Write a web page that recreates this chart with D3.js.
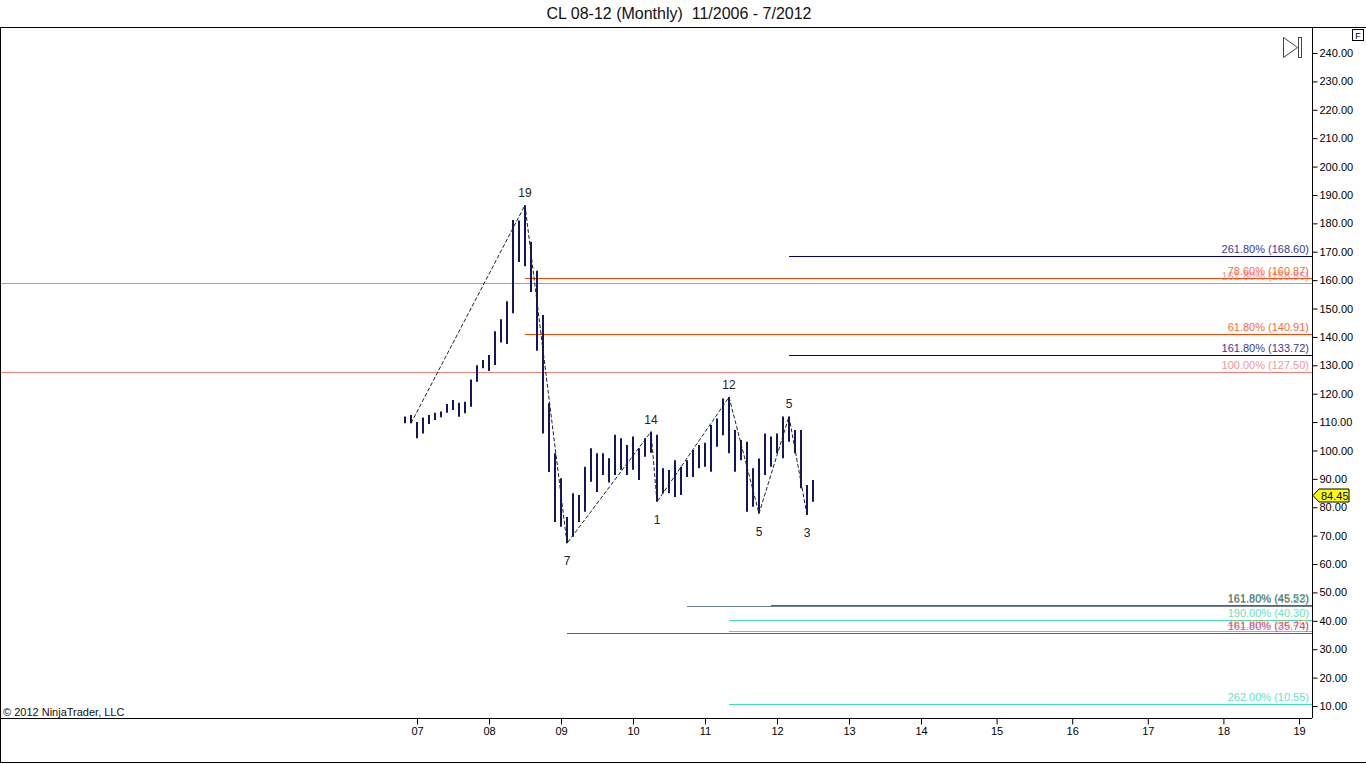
<!DOCTYPE html>
<html>
<head>
<meta charset="utf-8">
<script src="https://cdn.jsdelivr.net/npm/d3@7"></script>
<style>
  body { margin: 0; background: #fff; }
  svg { display: block; font-family: "Liberation Sans", Arial, sans-serif; }
</style>
</head>
<body>
<svg id="chart" width="1366" height="764"></svg>
<script>
// monthly bars, Nov 2006 .. Jul 2012
const firstMonth = "2006-11";
const barHigh = [
  112.0, 112.5,
  110.0, 111.6, 112.5, 113.3, 113.7, 116.4, 117.8, 116.8, 117.2, 125.0, 130.0, 131.9,
  133.6, 142.0, 146.2, 152.6, 181.2, 181.0, 186.4, 173.5, 163.3, 147.7, 116.6, 99.0,
  90.2, 76.6, 84.9, 84.3, 94.3, 100.8, 99.0, 99.0, 97.3, 105.5, 104.3, 101.9,
  104.9, 100.8, 104.3, 106.6, 105.5, 93.7, 93.1, 96.6, 94.3, 96.6, 100.2, 101.9,
  102.7, 109.0, 111.3, 118.3, 118.8, 107.2, 103.7, 103.1, 93.7, 97.2, 106.0, 104.9,
  106.0, 112.0, 112.0, 107.2, 107.2, 87.8, 89.6
];
const barLow = [
  109.6, 109.6,
  104.3, 106.0, 109.3, 110.7, 111.7, 113.3, 114.3, 111.9, 113.1, 115.4, 124.2, 129.0,
  128.0, 130.1, 138.0, 137.5, 148.3, 166.4, 164.9, 155.8, 135.1, 106.0, 92.4, 74.8,
  73.1, 67.3, 69.6, 74.8, 78.4, 89.0, 85.4, 91.4, 88.7, 91.4, 93.2, 91.4,
  93.2, 89.6, 97.8, 99.2, 81.9, 84.9, 84.9, 83.6, 84.3, 90.7, 90.7, 93.7,
  94.3, 92.5, 101.3, 105.4, 99.0, 92.5, 96.6, 78.4, 80.2, 77.8, 91.4, 94.3,
  99.0, 97.3, 103.1, 99.0, 86.7, 77.3, 81.9
];
const lastClose = 84.45;

// zigzag swing points
const pivotMonths = ["2006-12", "2008-07", "2009-02", "2010-04", "2010-05", "2011-05", "2011-10", "2012-03", "2012-06"];
const pivotPrices = [109.6, 186.4, 67.3, 106.6, 81.9, 118.8, 77.8, 112.0, 77.3];
const pivotLabels = ["", "19", "7", "14", "1", "12", "5", "5", "3"];

// fibonacci levels (start month null = full width)
const fibLabels = [
  "261.80% (168.60)", "161.80% (158.85)", "78.60% (160.87)", "61.80% (140.91)",
  "161.80% (133.72)", "100.00% (127.50)", "161.80% (45.23)", "161.80% (45.52)",
  "190.00% (40.30)", "461.80% (36.45)", "161.80% (35.74)", "262.00% (10.55)"
];
const fibValues = [168.60, 158.85, 160.87, 140.91, 133.72, 127.50, 45.23, 45.52, 40.30, 36.45, 35.74, 10.55];
const fibStarts = ["2012-03", null, "2008-07", "2008-07", "2012-03", null, "2010-10", "2011-12", "2011-05", "2011-05", "2009-02", "2011-05"];
const fibColors = ["#000080", "#f08080", "orangered", "orangered", "#000080", "#f08080",
  "slategray", "#2e7d4f", "#3cdcb4", "orange", "darkorchid", "#3cdcb4"];

const yearTicks = ["07", "08", "09", "10", "11", "12", "13", "14", "15", "16", "17", "18", "19"];
const priceTicks = d3.range(10, 241, 10);

const W = 1366, H = 764;
const plot = { left: 0, right: 1312, top: 27, bottom: 718 };

const monthIndex = s => {
  const [y, m] = s.split("-").map(Number);
  return (y - 2007) * 12 + (m - 1);
};
const first = monthIndex(firstMonth);

// months since Jan 2007 -> px ; future area is spaced a bit wider
const x = d3.scaleLinear().domain([0, 84, 144]).range([417, 921, 1299]);
const y = d3.scaleLinear().domain([10, 240]).range([706, 53]);

const svg = d3.select("#chart");
svg.append("rect").attr("width", W).attr("height", H).attr("fill", "#fff");

svg.append("text")
  .attr("x", 679).attr("y", 19)
  .attr("text-anchor", "middle")
  .attr("font-size", 16)
  .attr("fill", "#111")
  .style("white-space", "pre")
  .text("CL 08-12 (Monthly)  11/2006 - 7/2012");

svg.append("clipPath").attr("id", "plotclip")
  .append("rect")
  .attr("x", plot.left).attr("y", plot.top)
  .attr("width", plot.right - plot.left).attr("height", plot.bottom - plot.top);

const g = svg.append("g").attr("clip-path", "url(#plotclip)");

// fib lines + labels
const fibs = fibValues.map((v, i) => ({
  v, label: fibLabels[i], color: fibColors[i],
  x0: fibStarts[i] ? x(monthIndex(fibStarts[i])) : plot.left
}));

g.selectAll("line.fib")
  .data(fibs)
  .join("line")
  .attr("class", "fib")
  .attr("x1", d => d.x0)
  .attr("x2", plot.right)
  .attr("y1", d => Math.round(y(d.v)) + 0.5)
  .attr("y2", d => Math.round(y(d.v)) + 0.5)
  .attr("stroke", d => d.color)
  .attr("stroke-width", 1)
  .attr("shape-rendering", "crispEdges");

g.selectAll("text.fib")
  .data(fibs)
  .join("text")
  .attr("class", "fib")
  .attr("x", plot.right - 3)
  .attr("y", d => Math.round(y(d.v)) - 3)
  .attr("text-anchor", "end")
  .attr("font-size", 11)
  .attr("fill", d => d.color)
  .attr("opacity", 0.8)
  .text(d => d.label);

// hi-lo bars
const bars = barHigh.map((h, i) => ({ m: first + i, h, l: barLow[i] }));
g.selectAll("line.bar")
  .data(bars)
  .join("line")
  .attr("class", "bar")
  .attr("x1", d => x(d.m))
  .attr("x2", d => x(d.m))
  .attr("y1", d => y(d.h))
  .attr("y2", d => y(d.l))
  .attr("stroke", "#15155e")
  .attr("stroke-width", 2);

// zigzag
const pivots = pivotMonths.map((s, i) => ({
  m: monthIndex(s), p: pivotPrices[i], label: pivotLabels[i],
  up: i > 0 && pivotPrices[i] > pivotPrices[i - 1]
}));

g.append("path")
  .datum(pivots)
  .attr("fill", "none")
  .attr("stroke", "#222")
  .attr("stroke-width", 1)
  .attr("stroke-dasharray", "4,2")
  .attr("d", d3.line().x(d => x(d.m)).y(d => y(d.p)));

g.selectAll("text.pivot")
  .data(pivots.filter(d => d.label))
  .join("text")
  .attr("class", "pivot")
  .attr("x", d => x(d.m))
  .attr("y", d => d.up ? y(d.p) - 8 : y(d.p) + 22)
  .attr("text-anchor", "middle")
  .attr("font-size", 12)
  .attr("fill", "#222")
  .text(d => d.label);

// copyright
svg.append("text")
  .attr("x", 3).attr("y", 716)
  .attr("font-size", 11)
  .attr("fill", "#111")
  .text("\u00a9 2012 NinjaTrader, LLC");

// frame
const frame = svg.append("g").attr("stroke", "#000").attr("stroke-width", 1).attr("shape-rendering", "crispEdges");
frame.append("line").attr("x1", 0).attr("x2", W).attr("y1", 27.5).attr("y2", 27.5);
frame.append("line").attr("x1", 0.5).attr("x2", 0.5).attr("y1", 27).attr("y2", 762);
frame.append("line").attr("x1", 0).attr("x2", W).attr("y1", 762.5).attr("y2", 762.5);

// y axis on the right
const yAxis = svg.append("g")
  .attr("transform", `translate(${plot.right + 0.5},0)`)
  .call(d3.axisRight(y).tickValues(priceTicks).tickSize(5).tickPadding(2).tickFormat(d3.format(".2f")));
yAxis.select(".domain").attr("d", `M0,${plot.top}V${plot.bottom}`);
yAxis.selectAll("text").attr("font-size", 11).attr("font-family", "Liberation Sans, Arial, sans-serif").attr("fill", "#000");

// x axis
const xAxis = svg.append("g")
  .attr("transform", `translate(0,${plot.bottom + 0.5})`)
  .call(d3.axisBottom(x).tickValues(yearTicks.map((t, i) => i * 12)).tickSize(6).tickPadding(3).tickFormat((d, i) => yearTicks[i]));
xAxis.select(".domain").attr("d", `M${plot.left},0H${plot.right}`);
xAxis.selectAll("text").attr("font-size", 11).attr("font-family", "Liberation Sans, Arial, sans-serif").attr("fill", "#000");

// last price marker
const yc = Math.round(y(lastClose)) + 0.5;
svg.append("path")
  .attr("d", `M${plot.right + 1},${yc}L${plot.right + 7},${yc - 6.5}H${plot.right + 37}V${yc + 6.5}H${plot.right + 7}Z`)
  .attr("fill", "yellow")
  .attr("stroke", "#000");
svg.append("text")
  .attr("x", plot.right + 9).attr("y", yc + 4)
  .attr("font-size", 11)
  .attr("fill", "#000")
  .text(lastClose.toFixed(2));

// "F" box and scroll-to-end icon
svg.append("rect").attr("x", 1352.5).attr("y", 29.5).attr("width", 11).attr("height", 11)
  .attr("fill", "#fff").attr("stroke", "#000");
svg.append("text").attr("x", 1358).attr("y", 38.5).attr("text-anchor", "middle")
  .attr("font-size", 9).text("F");
svg.append("path").attr("d", "M1283.5,37.5L1297.5,47.5L1283.5,57.5Z")
  .attr("fill", "none").attr("stroke", "#444");
svg.append("rect").attr("x", 1298.5).attr("y", 37.5).attr("width", 3).attr("height", 20)
  .attr("fill", "none").attr("stroke", "#444");
</script>
</body>
</html>
